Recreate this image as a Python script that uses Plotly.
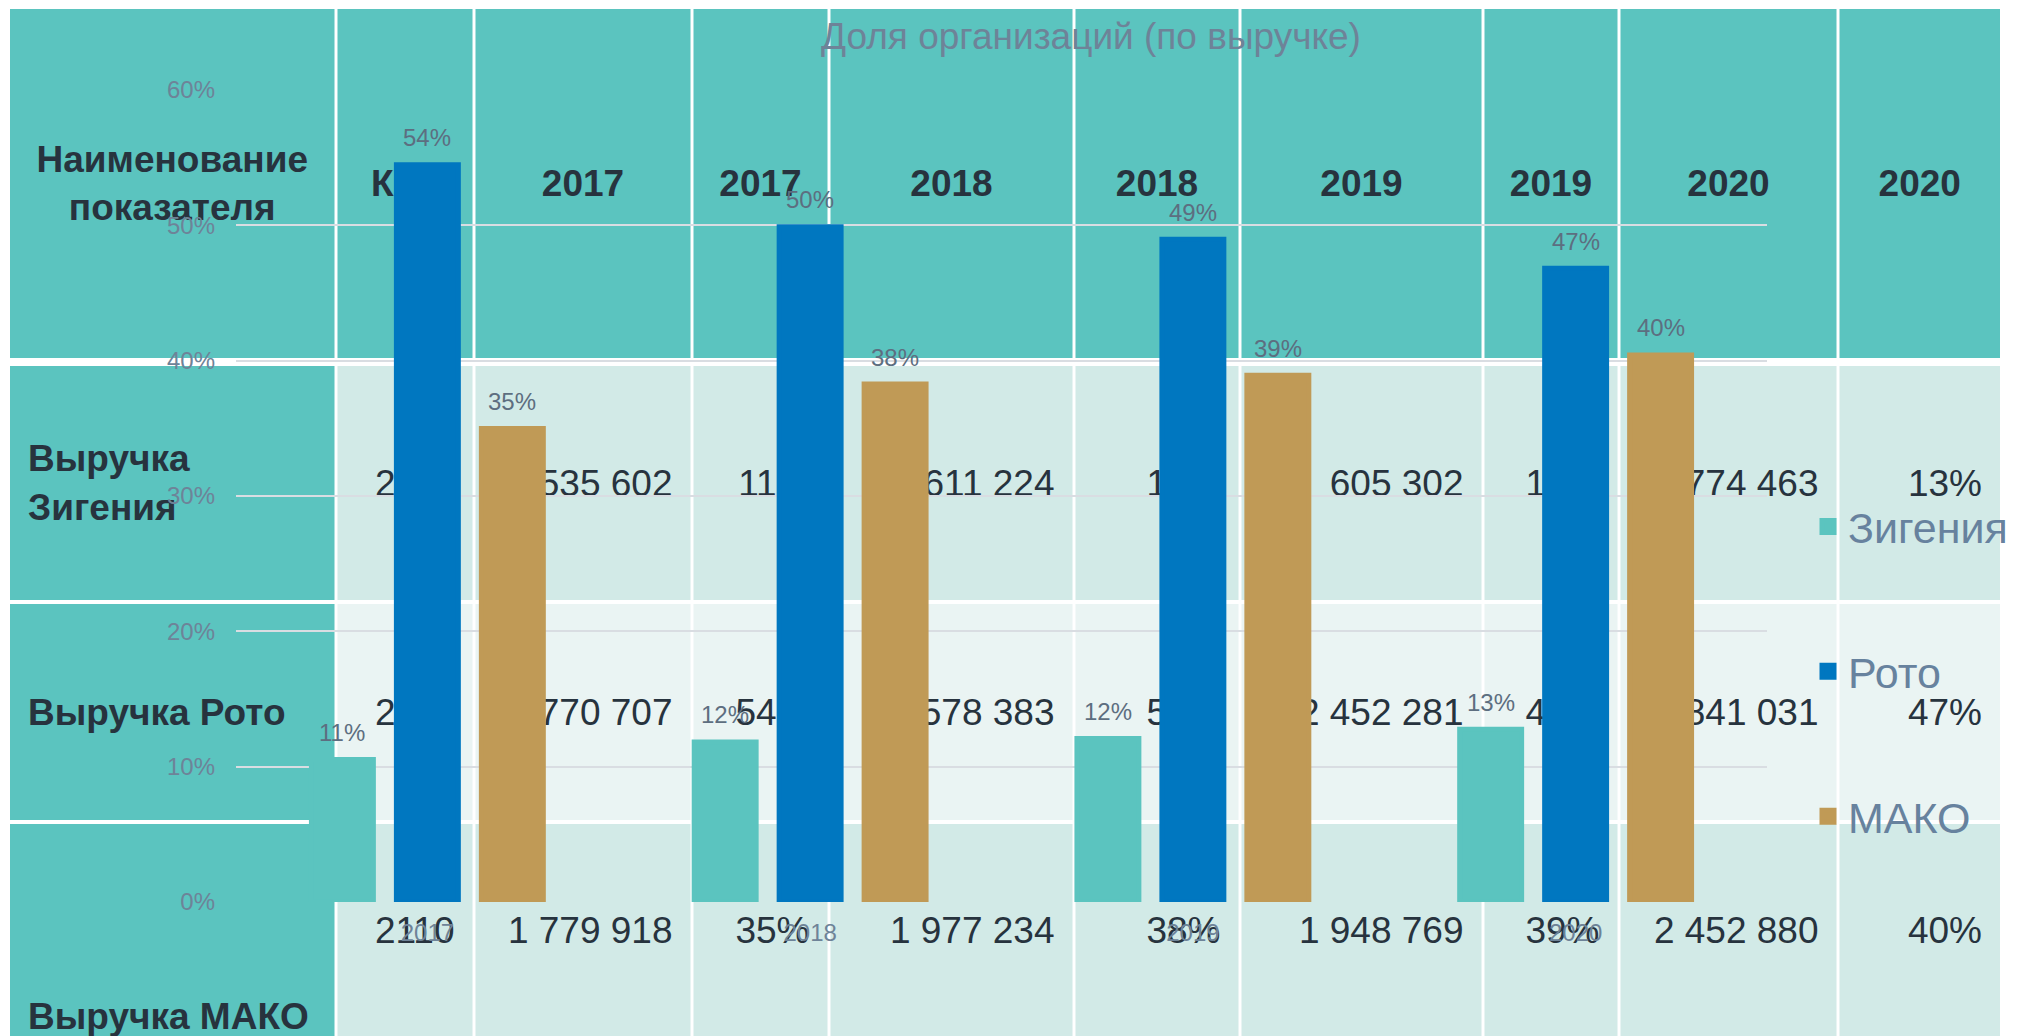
import plotly.graph_objects as go

# ---------------- data ----------------
years = ["2017", "2018", "2019", "2020"]
series_names = ["Зигения", "Рото", "МАКО"]
share_zigenia = [0.1053, 0.1183, 0.1209, 0.1276]
share_roto = [0.5447, 0.4990, 0.4898, 0.4682]
share_mako = [0.3499, 0.3827, 0.3893, 0.4042]
series_values = [share_zigenia, share_roto, share_mako]
series_colors = ["#5bc4bf", "#0077c0", "#c09a56"]

chart_title = "Доля организаций (по выручке)"

# background table
table_header = ["Наименование<br>показателя", "Код", "2017", "2017", "2018", "2018",
                "2019", "2019", "2020", "2020"]
row_names = ["Выручка<br>Зигения", "Выручка Рото", "Выручка МАКО"]
row_code = ["2110", "2110", "2110"]
revenue_2017 = ["535 602", "2 770 707", "1 779 918"]
pct_2017 = ["11%", "54%", "35%"]
revenue_2018 = ["611 224", "2 578 383", "1 977 234"]
pct_2018 = ["12%", "50%", "38%"]
revenue_2019 = ["605 302", "2 452 281", "1 948 769"]
pct_2019 = ["12%", "49%", "39%"]
revenue_2020 = ["774 463", "2 841 031", "2 452 880"]
pct_2020 = ["13%", "47%", "40%"]
table_columns = [row_code, revenue_2017, pct_2017, revenue_2018, pct_2018,
                 revenue_2019, pct_2019, revenue_2020, pct_2020]

# ---------------- layout geometry (pixels) ----------------
W, H = 2029, 1036
col_edges = [10, 336, 474, 692, 829, 1074, 1240, 1483, 1619, 1838, 2000]
row_spans = [(9, 358), (366, 600), (604, 820), (824, 1036)]
first_col_last_row = (824, 1208)
plot_x = (236, 1767)
plot_y = (90, 902)
bargap = 0.334
bar_edge = 5            # bar outline (same colour as fill); also enlarges legend swatches
bargroupgap = 0.271
text_lift = 4           # small upward nudge of table texts

TEAL = "#5bc4bf"
LIGHT1 = "#d2eae7"
LIGHT2 = "#eaf4f3"
TXT = "#27333e"
GRAYBLUE = "#6e8398"
FONT = "Liberation Sans, Arial, sans-serif"


def px(x):
    return x / W


def py(y):
    return 1 - y / H


fill_shapes = []
text_shapes = []


def cell(c, r0, r1, fill, text, pos, size, pad=15):
    x0 = col_edges[c] + (1.5 if c > 0 else 0)
    x1 = col_edges[c + 1] - (1.5 if c + 1 < len(col_edges) - 1 else 0)
    fill_shapes.append(dict(
        type="rect", xref="paper", yref="paper",
        x0=px(x0), x1=px(x1), y0=py(r1), y1=py(r0),
        fillcolor=fill, line=dict(width=0), layer="below",
    ))
    text_shapes.append(dict(
        type="rect", xref="paper", yref="paper",
        x0=px(x0), x1=px(x1), y0=py(r1 - text_lift), y1=py(r0 - text_lift),
        fillcolor="rgba(0,0,0,0)", line=dict(width=0), layer="below",
        label=dict(text=text, textposition=pos, padding=pad,
                   font=dict(family=FONT, size=size, color=TXT)),
    ))


# header row
for c, h in enumerate(table_header):
    cell(c, row_spans[0][0], row_spans[0][1], TEAL, "<b>" + h + "</b>", "middle center", 37)

row_fills = [LIGHT1, LIGHT2, LIGHT1]
for r in range(3):
    r0, r1 = row_spans[r + 1]
    if r == 2:
        fr0, fr1 = first_col_last_row
    else:
        fr0, fr1 = r0, r1
    cell(0, fr0, fr1, TEAL, "<b>" + row_names[r] + "</b>", "middle left", 37, pad=15)
    for c, colvals in enumerate(table_columns):
        cell(c + 1, r0, r1, row_fills[r], colvals[r], "middle right", 37, pad=15)

# ---------------- chart ----------------
fig = go.Figure()
for name, vals, color in zip(series_names, series_values, series_colors):
    fig.add_trace(go.Bar(
        x=years, y=vals, name=name,
        marker=dict(color=color, line=dict(width=bar_edge, color=color)),
        legendgroup=name, hoverinfo="skip",
    ))

# data labels above bars (positioned from the data through the axes)
cat_px = (plot_x[1] - plot_x[0]) / len(years)
slot_px = cat_px * (1 - bargap) / len(series_names)
annotations = []
for i, vals in enumerate(series_values):
    for j, v in enumerate(vals):
        annotations.append(dict(
            x=j, y=v, xref="x", yref="y",
            text=f"{round(v * 100):d}%", showarrow=False,
            xshift=(i - (len(series_names) - 1) / 2) * slot_px, yshift=27,
            yanchor="middle", xanchor="center",
            font=dict(family=FONT, size=24, color="#5d6e80"),
        ))

annotations.append(dict(
    text=chart_title, xref="paper", yref="paper", x=px(1091), y=py(36),
    xanchor="center", yanchor="middle", showarrow=False,
    font=dict(family=FONT, size=37, color=GRAYBLUE),
))

fig.update_layout(
    width=W, height=H, margin=dict(l=0, r=0, t=0, b=0, autoexpand=False),
    paper_bgcolor="white", plot_bgcolor="rgba(0,0,0,0)",
    barmode="group", bargap=bargap, bargroupgap=bargroupgap,
    shapes=fill_shapes + text_shapes, annotations=annotations,
    showlegend=True,
    legend=dict(
        x=px(1808), y=py(492), xanchor="left", yanchor="top",
        bgcolor="rgba(0,0,0,0)", tracegroupgap=86,
        font=dict(family=FONT, size=43, color="#67829e"),
        traceorder="grouped",
    ),
    xaxis=dict(
        type="category", domain=[px(plot_x[0]), px(plot_x[1])],
        range=[-0.5, len(years) - 0.5], automargin=False,
        showgrid=False, zeroline=False, showline=False, ticks="",
        ticklabelstandoff=14,
        tickfont=dict(family=FONT, size=24, color=GRAYBLUE),
    ),
    yaxis=dict(
        range=[0, 0.6], domain=[py(plot_y[1]), py(plot_y[0])], automargin=False,
        tickformat=".0%", dtick=0.1, tick0=0,
        showgrid=True, gridcolor="#d9dde2", gridwidth=2,
        zeroline=False, showline=False, ticks="",
        ticklabelstandoff=20,
        tickfont=dict(family=FONT, size=24, color=GRAYBLUE),
    ),
)

fig.write_html(
    "out.html",
    config={"displayModeBar": False},
    post_script="document.body.style.margin='0';document.body.style.overflow='hidden';",
)
